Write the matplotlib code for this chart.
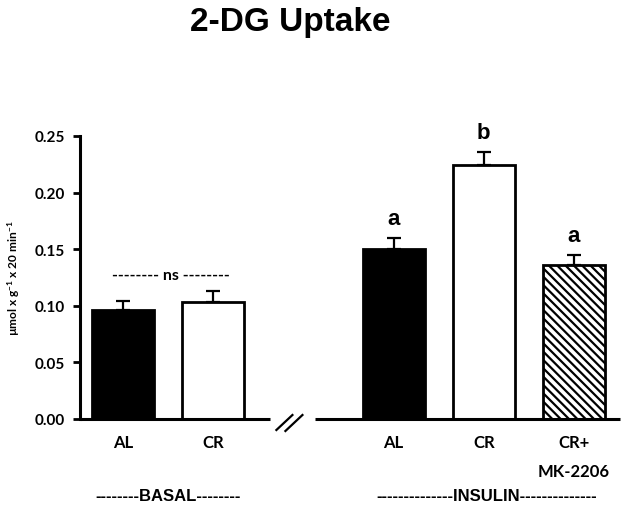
import matplotlib
matplotlib.use("Agg")
import matplotlib.pyplot as plt

# ---- data ----
groups = ["BASAL", "INSULIN"]
categories = ["AL", "CR", "AL", "CR", "CR+\nMK-2206"]
positions = [0, 1, 3, 4, 5]
values = [0.096, 0.103, 0.150, 0.224, 0.136]
errors = [0.008, 0.010, 0.010, 0.012, 0.009]
sig_letters = ["", "", "a", "b", "a"]
y_ticks = [0.00, 0.05, 0.10, 0.15, 0.20, 0.25]

facecolors = ["black", "white", "black", "white", "white"]
hatches = [None, None, None, None, "\\\\\\\\"]

plt.rcParams["hatch.linewidth"] = 1.6
plt.rcParams["mathtext.fontset"] = "custom"
plt.rcParams["mathtext.rm"] = "Lato:bold"
plt.rcParams["mathtext.it"] = "Lato:bold"
plt.rcParams["mathtext.bf"] = "Lato:bold"

fig = plt.figure(figsize=(6.24, 5.10), dpi=100)
ax = fig.add_axes([80/624, 90/510, 540/624, 283/510])

for x, v, e, fc, h in zip(positions, values, errors, facecolors, hatches):
    ax.bar(x, v, width=0.69, color=fc, edgecolor="black", linewidth=2.0, hatch=h, zorder=2)
    ax.errorbar(x, v, yerr=[[0], [e]], fmt="none", ecolor="black", elinewidth=1.6,
                capsize=5, capthick=1.6, zorder=3)

xl = (-0.478, 5.51)
ax.set_xlim(*xl)
ax.set_ylim(0, 0.25)
ax.set_yticks(y_ticks)
ax.set_yticklabels([f"{t:.2f}" for t in y_ticks], fontfamily="Lato", fontweight="bold", fontsize=11)
ax.tick_params(axis="y", direction="out", length=5, width=2, pad=6)
ax.set_xticks(positions)
ax.set_xticklabels(categories, fontfamily="Lato", fontweight="bold", fontsize=12, linespacing=1.95, va="top")
ax.tick_params(axis="x", length=0, pad=11)

for s in ["top", "right", "bottom"]:
    ax.spines[s].set_visible(False)
ax.spines["left"].set_linewidth(2.2)

def px2x(px):
    return (px - 80) / 90 + xl[0]

def py2y(py):
    return (420 - py) / 1132

# broken x-axis
ax.plot([xl[0], px2x(270)], [0, 0], color="black", lw=2.2, clip_on=False, zorder=4, solid_capstyle="butt")
ax.plot([px2x(315), xl[1]], [0, 0], color="black", lw=2.2, clip_on=False, zorder=4, solid_capstyle="butt")
ax.plot([px2x(276), px2x(292)], [py2y(431), py2y(416)], color="black", lw=1.6, clip_on=False)
ax.plot([px2x(285), px2x(302)], [py2y(432), py2y(416)], color="black", lw=1.6, clip_on=False)

# significance letters
for x, v, e, s in zip(positions, values, errors, sig_letters):
    if s:
        ax.text(x, v + e + 0.008, s, ha="center", va="bottom", fontfamily="Liberation Sans",
                fontweight="bold", fontsize=16)

ax.text(px2x(171), py2y(276), "-------- ns --------", ha="center", va="center",
        fontfamily="Lato", fontweight="bold", fontsize=11.5)

ax.set_ylabel("µmol x g$^{-1}$ x 20 min$^{-1}$", fontfamily="Lato", fontweight="bold", fontsize=8.6)
ax.yaxis.set_label_coords(-0.108, 0.5)

fig.text(290/624, 1 - 22/510, "2-DG Uptake", ha="center", va="center",
         fontfamily="Liberation Sans", fontweight="bold", fontsize=24)

fig.text(168/624, 1 - 497/510, "--------BASAL--------", ha="center", va="center",
         fontfamily="Liberation Sans", fontweight="bold", fontsize=12)
fig.text(487/624, 1 - 497/510, "--------------INSULIN--------------", ha="center", va="center",
         fontfamily="Liberation Sans", fontweight="bold", fontsize=12)

fig.savefig("out.png", dpi=100)
